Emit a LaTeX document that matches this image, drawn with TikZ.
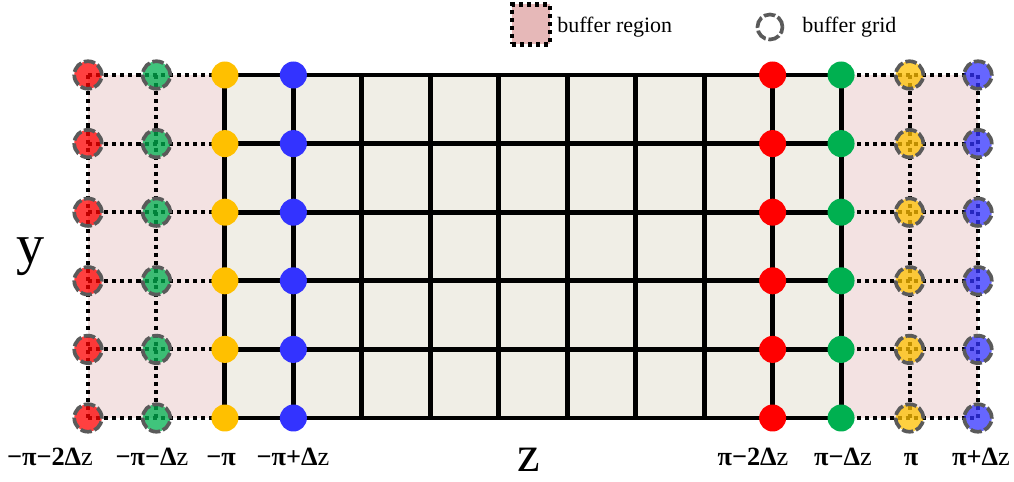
\documentclass[tikz,border=0pt]{standalone}
\usepackage{fontspec}
\setmainfont{Liberation Serif}

\definecolor{cred}{HTML}{FF0000}
\definecolor{cgreen}{HTML}{00B050}
\definecolor{cyellow}{HTML}{FFC000}
\definecolor{cblue}{HTML}{3333FF}
\definecolor{cbeige}{HTML}{F0EEE6}
\definecolor{cpink}{HTML}{F3E2E2}
\definecolor{cpinkdark}{HTML}{E6B8B8}
\definecolor{cgray}{HTML}{5A5A5A}

\tikzset{
  dot/.style={circle, minimum size=0.54cm, inner sep=0pt},
  bufdot/.style={circle, minimum size=0.55cm, inner sep=0pt, draw=cgray,
    line width=2.1pt, dash pattern=on 6.5pt off 1.6pt, fill opacity=0.75},
  solidline/.style={line width=2.8pt},
  dotline/.style={line width=2.3pt, dash pattern=on 2.3pt off 2.3pt},
  lbl/.style={font=\fontsize{15}{18}\selectfont\bfseries, anchor=base},
  legtext/.style={font=\fontsize{12.5}{15}\selectfont, anchor=west, inner sep=0pt}
}

\begin{document}
\begin{tikzpicture}[x=0.02cm, y=-0.02cm]
    \useasboundingbox (0,0) rectangle (1014,482);

    % Grid points
    \foreach \c in {0,...,13}
        \foreach \r in {0,...,5}
            \coordinate (p-\c-\r) at ({88+68.46*\c},{75+68.6*\r});

    % Regions
    \fill[cpink] (p-0-0) rectangle (p-2-5);
    \fill[cbeige] (p-2-0) rectangle (p-11-5);
    \fill[cpink] (p-11-0) rectangle (p-13-5);

    % Dotted buffer lines
    \foreach \r in {0,...,5} {
        \draw[dotline] (p-0-\r) -- (p-2-\r);
        \draw[dotline] (p-11-\r) -- (p-13-\r);
    }
    \foreach \c in {0,1,12,13}
        \draw[dotline] (p-\c-0) -- (p-\c-5);

    % Solid grid
    \foreach \r in {0,...,5}
        \draw[solidline] (p-2-\r) -- (p-11-\r);
    \foreach \c in {2,...,11}
        \draw[solidline] (p-\c-0) -- (p-\c-5);

    % Grid dots
    \foreach \r in {0,...,5} {
        \node[bufdot, fill=cred] (rb-\r) at (p-0-\r) {};
        \node[bufdot, fill=cgreen] (gb-\r) at (p-1-\r) {};
        \node[dot, fill=cyellow] (ya-\r) at (p-2-\r) {};
        \node[dot, fill=cblue] (ba-\r) at (p-3-\r) {};
        \node[dot, fill=cred] (ra-\r) at (p-10-\r) {};
        \node[dot, fill=cgreen] (ga-\r) at (p-11-\r) {};
        \node[bufdot, fill=cyellow] (yb-\r) at (p-12-\r) {};
        \node[bufdot, fill=cblue] (bb-\r) at (p-13-\r) {};
    }

    % Labels on z
    \node[lbl] (lab-rb) at (50,466) {−π−2Δ{\mdseries z}};
    \node[lbl] (lab-gb) at (152,466) {−π−Δ{\mdseries z}};
    \node[lbl] (lab-ya) at (221,466) {−π};
    \node[lbl] (lab-ba) at (293,466) {−π+Δ{\mdseries z}};
    \node[lbl] (lab-ra) at (753,466) {π−2Δ{\mdseries z}};
    \node[lbl] (lab-ga) at (843,466) {π−Δ{\mdseries z}};
    \node[lbl] (lab-yb) at (911,466) {π};
    \node[lbl] (lab-bb) at (981,466) {π+Δ{\mdseries z}};

    % Axis names
    \node[font=\fontsize{32}{36}\selectfont, anchor=base, inner sep=0pt] (ylab) at (31,264) {y};
    \node[font=\fontsize{29}{34}\selectfont, anchor=base, inner sep=0pt] (zlab) at (529,472) {z};

    % Legend
    \node[draw, dotline, fill=cpinkdark, minimum width=0.76cm, minimum height=0.8cm,
          inner sep=0pt] (legreg) at (531,24.5) {};
    \node[legtext] (legregtext) at (557,27) {buffer region};
    \node[circle, draw=cgray, line width=2.1pt, dash pattern=on 6.5pt off 1.6pt,
          minimum size=0.5cm, inner sep=0pt] (leggrid) at (770,27) {};
    \node[legtext] (leggridtext) at (802,27) {buffer grid};
\end{tikzpicture}
\end{document}
